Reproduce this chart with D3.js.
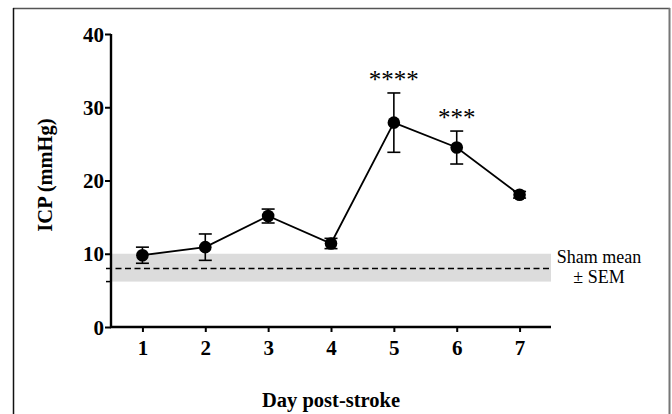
<!DOCTYPE html>
<html><head><meta charset="utf-8">
<script src="https://cdn.jsdelivr.net/npm/d3@7"></script>
<style>
html,body{margin:0;padding:0;background:#fff;}
svg{display:block;}
text{font-family:"Liberation Serif","Times New Roman",serif;}
</style></head>
<body>
<script>
const days = [1, 2, 3, 4, 5, 6, 7];
const icpMean = [9.8, 10.9, 15.15, 11.4, 27.9, 24.5, 18.05];
const icpSem = [1.1, 1.8, 0.95, 0.7, 4.05, 2.25, 0.45];
const significance = ["", "", "", "", "****", "***", ""];
const yTicks = [0, 10, 20, 30, 40];
const shamMean = 8.0;
const shamSem = [6.2, 10.0];
const shamLabel = ["Sham mean", "± SEM"];
const xTitle = "Day post-stroke";
const yTitle = "ICP (mmHg)";

const W = 672, H = 414;
const svg = d3.select("body").append("svg").attr("width", W).attr("height", H);

// frame
svg.append("line").attr("x1",13).attr("x2",670).attr("y1",8.5).attr("y2",8.5).attr("stroke","#555").attr("stroke-width",1.5);
svg.append("line").attr("x1",13.5).attr("x2",13.5).attr("y1",8).attr("y2",H).attr("stroke","#111").attr("stroke-width",1.5);
svg.append("line").attr("x1",669.5).attr("x2",669.5).attr("y1",8).attr("y2",H).attr("stroke","#777").attr("stroke-width",2);

const x = d3.scaleLinear().domain([0.5, 7.5]).range([111, 551]);
const y = d3.scaleLinear().domain([0, 40]).range([327, 34]);

// sham band
svg.append("rect").attr("x", x(0.5)).attr("width", x(7.5)-x(0.5))
  .attr("y", y(shamSem[1])).attr("height", y(shamSem[0]) - y(shamSem[1]))
  .attr("fill", "#dcdcdc");
svg.append("line").attr("x1", 106).attr("x2", x(0.5)).attr("y1", y(shamSem[0])).attr("y2", y(shamSem[0]))
  .attr("stroke","#000").attr("stroke-width",1.5);
svg.append("line").attr("x1", 106).attr("x2", x(7.5)).attr("y1", y(shamMean)).attr("y2", y(shamMean))
  .attr("stroke","#000").attr("stroke-width",1.5).attr("stroke-dasharray","6,3.5");

// axes
const yAxis = svg.append("g").attr("transform", `translate(${x(0.5)},0)`)
  .call(d3.axisLeft(y).tickValues(yTicks).tickSize(6).tickSizeOuter(0).tickPadding(1));
const xAxis = svg.append("g").attr("transform", `translate(0,${y(0)})`)
  .call(d3.axisBottom(x).tickValues(days).tickFormat(d3.format("d")).tickSize(5).tickSizeOuter(0).tickPadding(8));
[yAxis, xAxis].forEach(g => {
  g.select(".domain").attr("stroke", "#000").attr("stroke-width", 2.4);
  g.selectAll(".tick line").attr("stroke", "#000").attr("stroke-width", 2);
  g.selectAll(".tick text").attr("fill", "#000").style("font-family", '"Liberation Serif",serif')
    .style("font-weight", "bold").style("font-size", "21px");
});
yAxis.selectAll(".tick text").attr("dy", "0.34em");
yAxis.select(".domain").attr("d", `M0,${y(40)}V${y(0)+1}`);
xAxis.select(".domain").attr("d", `M${x(0.5)-1},0H${x(7.5)}`);

// titles
svg.append("text").attr("x", 331).attr("y", 407).attr("text-anchor", "middle")
  .style("font-weight", "bold").style("font-size", "20.5px").text(xTitle);
svg.append("text").attr("transform", `translate(52,175) rotate(-90)`).attr("text-anchor", "middle")
  .style("font-weight", "bold").style("font-size", "20.5px").text(yTitle);

// data line
const data = days.map((d, i) => ({d, m: icpMean[i], s: icpSem[i], sig: significance[i]}));
svg.append("path").datum(data)
  .attr("d", d3.line().x(p => x(p.d)).y(p => y(p.m)))
  .attr("fill", "none").attr("stroke", "#000").attr("stroke-width", 1.8);

const eb = svg.append("g").selectAll("g").data(data).join("g");
eb.append("line").attr("x1", p => x(p.d)).attr("x2", p => x(p.d))
  .attr("y1", p => y(p.m + p.s)).attr("y2", p => y(p.m - p.s)).attr("stroke", "#000").attr("stroke-width", 1.6);
eb.append("line").attr("x1", p => x(p.d) - 6.5).attr("x2", p => x(p.d) + 6.5)
  .attr("y1", p => y(p.m + p.s)).attr("y2", p => y(p.m + p.s)).attr("stroke", "#000").attr("stroke-width", 1.6);
eb.append("line").attr("x1", p => x(p.d) - 6.5).attr("x2", p => x(p.d) + 6.5)
  .attr("y1", p => y(p.m - p.s)).attr("y2", p => y(p.m - p.s)).attr("stroke", "#000").attr("stroke-width", 1.6);
eb.append("circle").attr("cx", p => x(p.d)).attr("cy", p => y(p.m)).attr("r", 6.3).attr("fill", "#000");

// significance
svg.append("g").selectAll("text").data(data.filter(p => p.sig)).join("text")
  .attr("x", p => x(p.d)).attr("y", p => y(p.m + p.s) - 5).attr("text-anchor", "middle")
  .style("font-size", "25px").attr("fill", "#000").text(p => p.sig);

// sham label
svg.append("text").attr("x", 599).attr("y", 263).attr("text-anchor", "middle")
  .style("font-size", "18px").text(shamLabel[0]);
svg.append("text").attr("x", 599).attr("y", 283).attr("text-anchor", "middle")
  .style("font-size", "18px").text(shamLabel[1]);
</script>
</body></html>
